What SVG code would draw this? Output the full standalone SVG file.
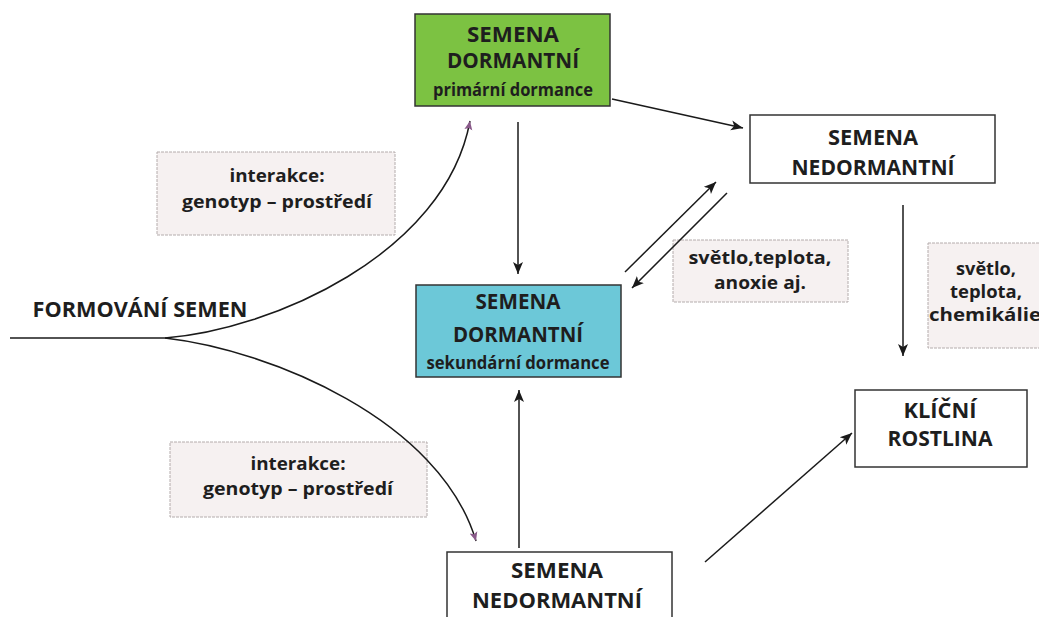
<svg xmlns="http://www.w3.org/2000/svg" width="1039" height="617" viewBox="0 0 1039 617">
<style>
.box{stroke:#333;stroke-width:1.5}
.lbl{fill:#f6f1f1;stroke:#b4acac;stroke-width:1;stroke-dasharray:3,1}
.t{font-family:"Open Sans","Liberation Sans",sans-serif;font-weight:bold;fill:#1e1e1e;text-anchor:middle}
.h{font-size:21px}
.s{font-size:17px}
.c{stroke:#1a1a1a;stroke-width:1.5;fill:none}
</style>
<defs>
<marker id="ah" markerUnits="userSpaceOnUse" markerWidth="14" markerHeight="12" refX="12" refY="6" orient="auto">
<path d="M0,1 L12,6 L0,11 L3,6 Z" fill="#1a1a1a"/>
</marker>
<marker id="ap" markerUnits="userSpaceOnUse" markerWidth="10" markerHeight="10" refX="9" refY="5" orient="auto">
<path d="M0,1 L9,5 L0,9 L2,5 Z" fill="#8a5a8a"/>
</marker>
</defs>
<rect width="1039" height="617" fill="#ffffff"/>

<g id="formovani">
<text class="t h" x="140" y="317" textLength="215" lengthAdjust="spacingAndGlyphs">FORMOVÁNÍ SEMEN</text>
</g>

<g id="label-interakce-top">
<rect class="lbl" x="157" y="152" width="238" height="83"/>
<text class="t" x="277" y="182" font-size="18" textLength="95" lengthAdjust="spacingAndGlyphs">interakce:</text>
<text class="t" x="277" y="208" font-size="18" textLength="190" lengthAdjust="spacingAndGlyphs">genotyp – prostředí</text>
</g>

<g id="label-interakce-bottom">
<rect class="lbl" x="170" y="442" width="257" height="75"/>
<text class="t" x="298" y="470" font-size="18" textLength="95" lengthAdjust="spacingAndGlyphs">interakce:</text>
<text class="t" x="298" y="495" font-size="18" textLength="190" lengthAdjust="spacingAndGlyphs">genotyp – prostředí</text>
</g>

<g id="label-svetlo-anoxie">
<rect class="lbl" x="673" y="240" width="175" height="62"/>
<text class="t s" x="760" y="264" textLength="143" lengthAdjust="spacingAndGlyphs">světlo,teplota,</text>
<text class="t s" x="760" y="289" textLength="92" lengthAdjust="spacingAndGlyphs">anoxie aj.</text>
</g>

<g id="label-svetlo-chemikalie">
<rect class="lbl" x="928" y="243" width="120" height="105"/>
<text class="t s" x="986" y="275" textLength="60" lengthAdjust="spacingAndGlyphs">světlo,</text>
<text class="t s" x="986" y="298" textLength="72" lengthAdjust="spacingAndGlyphs">teplota,</text>
<text class="t s" x="985" y="321" textLength="112" lengthAdjust="spacingAndGlyphs">chemikálie</text>
</g>

<g id="connectors">
<path class="c" d="M10,338 L165,338"/>
<path class="c" d="M165,338 C270,330 445,255 470,121" marker-end="url(#ap)"/>
<path class="c" d="M165,338 C270,350 440,420 476,541" marker-end="url(#ap)"/>
<line class="c" x1="612" y1="99" x2="743" y2="128" marker-end="url(#ah)"/>
<line class="c" x1="518" y1="122" x2="518" y2="274" marker-end="url(#ah)"/>
<line class="c" x1="625" y1="272" x2="716" y2="182" marker-end="url(#ah)"/>
<line class="c" x1="727" y1="193" x2="632" y2="288" marker-end="url(#ah)"/>
<line class="c" x1="903" y1="205" x2="903" y2="356" marker-end="url(#ah)"/>
<line class="c" x1="519" y1="548" x2="519" y2="390" marker-end="url(#ah)"/>
<line class="c" x1="705" y1="562" x2="852" y2="433" marker-end="url(#ah)"/>
</g>

<g id="node-primarni">
<rect class="box" x="415" y="14" width="195" height="92" fill="#7cc242" stroke="#3c4a30"/>
<text class="t h" x="513" y="42" textLength="92" lengthAdjust="spacingAndGlyphs">SEMENA</text>
<text class="t h" x="513" y="68" textLength="132" lengthAdjust="spacingAndGlyphs">DORMANTNÍ</text>
<text class="t s" x="513" y="96" font-size="16" textLength="160" lengthAdjust="spacingAndGlyphs">primární dormance</text>
</g>

<g id="node-nedormantni-top">
<rect class="box" x="750" y="115" width="245" height="68" fill="#ffffff"/>
<text class="t h" x="873" y="145" textLength="90" lengthAdjust="spacingAndGlyphs">SEMENA</text>
<text class="t h" x="873" y="175" textLength="163" lengthAdjust="spacingAndGlyphs">NEDORMANTNÍ</text>
</g>

<g id="node-sekundarni">
<rect class="box" x="416" y="285" width="205" height="92" fill="#6cc8d8" stroke="#2e4a50"/>
<text class="t h" x="518" y="309" textLength="85" lengthAdjust="spacingAndGlyphs">SEMENA</text>
<text class="t h" x="518" y="342" textLength="130" lengthAdjust="spacingAndGlyphs">DORMANTNÍ</text>
<text class="t s" x="518" y="369" font-size="16" textLength="183" lengthAdjust="spacingAndGlyphs">sekundární dormance</text>
</g>

<g id="node-klicni">
<rect class="box" x="855" y="390" width="172" height="77" fill="#ffffff"/>
<text class="t h" x="940" y="418" textLength="73" lengthAdjust="spacingAndGlyphs">KLÍČNÍ</text>
<text class="t h" x="940" y="446" textLength="105" lengthAdjust="spacingAndGlyphs">ROSTLINA</text>
</g>

<g id="node-nedormantni-bottom">
<rect class="box" x="447" y="552" width="225" height="80" fill="#ffffff"/>
<text class="t h" x="557" y="578" textLength="92" lengthAdjust="spacingAndGlyphs">SEMENA</text>
<text class="t h" x="557" y="608" textLength="170" lengthAdjust="spacingAndGlyphs">NEDORMANTNÍ</text>
</g>
</svg>
